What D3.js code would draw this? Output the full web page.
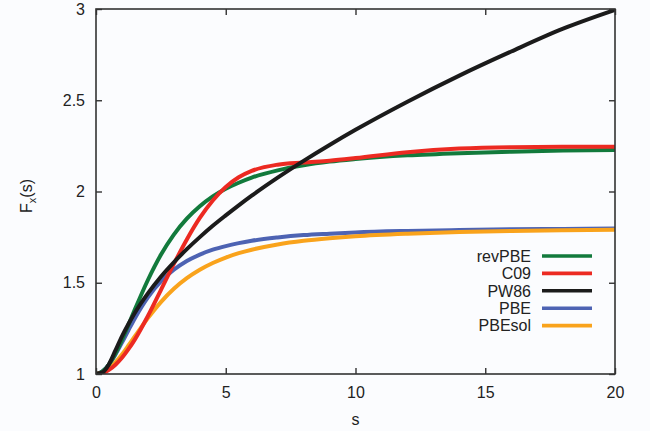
<!DOCTYPE html>
<html>
<head>
<meta charset="utf-8">
<script src="https://cdn.jsdelivr.net/npm/d3@7/dist/d3.min.js"></script>
<style>
  html, body { margin: 0; padding: 0; background: #fbfcfe; }
  svg { display: block; }
  text { font-family: "Liberation Sans", Arial, Helvetica, sans-serif; fill: #222; }
</style>
</head>
<body>
<svg width="650" height="431"></svg>
<script>
// reduced gradient s, sampled along the curves
const sValues = [0, 0.25, 0.5, 0.75, 1, 1.25, 1.5, 2, 2.5, 3, 3.5, 4, 4.5, 5, 5.5, 6, 7, 8, 9, 10, 12, 14, 16, 18, 20]

// enhancement factor F_x(s)
const revPBE = [1.000, 1.014, 1.053, 1.112, 1.187, 1.269, 1.354, 1.515, 1.653, 1.764, 1.851, 1.919, 1.973, 2.015, 2.048, 2.076, 2.116, 2.144, 2.164, 2.178, 2.198, 2.210, 2.218, 2.224, 2.228]
const C09    = [1.000, 1.006, 1.023, 1.051, 1.089, 1.136, 1.190, 1.318, 1.460, 1.603, 1.737, 1.855, 1.951, 2.025, 2.078, 2.113, 2.147, 2.159, 2.169, 2.183, 2.215, 2.235, 2.243, 2.245, 2.245]
const PW86   = [1.000, 1.009, 1.054, 1.129, 1.206, 1.274, 1.336, 1.442, 1.533, 1.612, 1.684, 1.750, 1.812, 1.869, 1.924, 1.977, 2.076, 2.168, 2.255, 2.338, 2.492, 2.635, 2.767, 2.892, 2.995]
const PBE    = [1.000, 1.014, 1.051, 1.107, 1.172, 1.240, 1.306, 1.420, 1.507, 1.571, 1.619, 1.654, 1.681, 1.701, 1.717, 1.730, 1.748, 1.761, 1.769, 1.776, 1.784, 1.789, 1.793, 1.795, 1.797]
const PBEsol = [1.000, 1.008, 1.030, 1.064, 1.107, 1.156, 1.207, 1.306, 1.394, 1.467, 1.525, 1.571, 1.608, 1.638, 1.662, 1.681, 1.710, 1.730, 1.744, 1.755, 1.769, 1.778, 1.784, 1.788, 1.791]

const xTicks = [0, 5, 10, 15, 20]
const yTicks = [1, 1.5, 2, 2.5, 3]

// legend order (top to bottom)
const legendNames = ["revPBE", "C09", "PW86", "PBE", "PBEsol"]
const colours = {
    revPBE: "#127a3c",
    C09: "#ec2a22",
    PW86: "#1b1b1b",
    PBE: "#4d63b3",
    PBEsol: "#f9a31c"
}
const seriesValues = { revPBE, C09, PW86, PBE, PBEsol }
// paint order so that red sits on green and orange on blue like the original
const drawOrder = ["PBE", "PBEsol", "revPBE", "C09", "PW86"]

const width = 650, height = 431
const margin = { top: 9, right: 35, bottom: 57, left: 96 }
const innerW = width - margin.left - margin.right
const innerH = height - margin.top - margin.bottom

const svg = d3.select("svg")
const g = svg.append("g")
    .attr("transform", "translate(" + margin.left + "," + margin.top + ")")

const x = d3.scaleLinear().domain([0, 20]).range([0, innerW])
const y = d3.scaleLinear().domain([1, 3]).range([innerH, 0])

g.append("clipPath").attr("id", "plotClip")
    .append("rect").attr("width", innerW).attr("height", innerH)

//curves
const line = d3.line()
    .x((d) => x(d[0]))
    .y((d) => y(d[1]))
    .curve(d3.curveMonotoneX)

const curves = g.append("g").attr("clip-path", "url(#plotClip)")
drawOrder.forEach((name) => {
    const pts = sValues.map((s, i) => [s, seriesValues[name][i]])
    curves.append("path")
        .datum(pts)
        .attr("d", line)
        .attr("fill", "none")
        .attr("stroke", colours[name])
        .attr("stroke-width", 4)
        .attr("stroke-linejoin", "round")
        .attr("stroke-linecap", "round")
})

//axes, ticks pointing inwards on all four sides
const tickLen = 6
const fmt = (d) => String(d)

function styleAxis(sel, showLabels) {
    sel.select(".domain").remove()
    sel.selectAll("line").attr("stroke", "#333").attr("stroke-width", 1.4)
    sel.selectAll("text")
        .style("font-size", "16px")
        .attr("fill", "#222")
    if (!showLabels) sel.selectAll("text").remove()
}

g.append("g")
    .attr("transform", "translate(0," + innerH + ")")
    .call(d3.axisBottom(x).tickValues(xTicks).tickFormat(fmt).tickSize(-tickLen).tickPadding(13))
    .call(styleAxis, true)
g.append("g")
    .call(d3.axisTop(x).tickValues(xTicks).tickFormat(fmt).tickSize(-tickLen))
    .call(styleAxis, false)
g.append("g")
    .call(d3.axisLeft(y).tickValues(yTicks).tickFormat(fmt).tickSize(-tickLen).tickPadding(11))
    .call(styleAxis, true)
g.append("g")
    .attr("transform", "translate(" + innerW + ",0)")
    .call(d3.axisRight(y).tickValues(yTicks).tickFormat(fmt).tickSize(-tickLen))
    .call(styleAxis, false)

// frame
g.append("rect")
    .attr("width", innerW)
    .attr("height", innerH)
    .attr("fill", "none")
    .attr("stroke", "#333")
    .attr("stroke-width", 1.6)

// axis titles
g.append("text")
    .attr("x", innerW / 2)
    .attr("y", innerH + 51)
    .attr("text-anchor", "middle")
    .style("font-size", "16px")
    .text("s")

const yTitle = svg.append("text")
    .attr("transform", "translate(32," + 196 + ") rotate(-90)")
    .attr("text-anchor", "middle")
    .style("font-size", "16px")
yTitle.append("tspan").text("F")
yTitle.append("tspan").attr("dy", 4).style("font-size", "11px").text("x")
yTitle.append("tspan").attr("dy", -4).text("(s)")

//legend
const legend = svg.append("g")
const rowY = (i) => 256 + i * 17.4
legend.selectAll("line").data(legendNames).enter()
    .append("line")
    .attr("x1", 542)
    .attr("x2", 592)
    .attr("y1", (d, i) => rowY(i))
    .attr("y2", (d, i) => rowY(i))
    .attr("stroke", (d) => colours[d])
    .attr("stroke-width", 3.6)
legend.selectAll("text").data(legendNames).enter()
    .append("text")
    .attr("x", 531)
    .attr("y", (d, i) => rowY(i))
    .attr("dy", "0.36em")
    .attr("text-anchor", "end")
    .style("font-size", "16px")
    .text((d) => d)
</script>
</body>
</html>
